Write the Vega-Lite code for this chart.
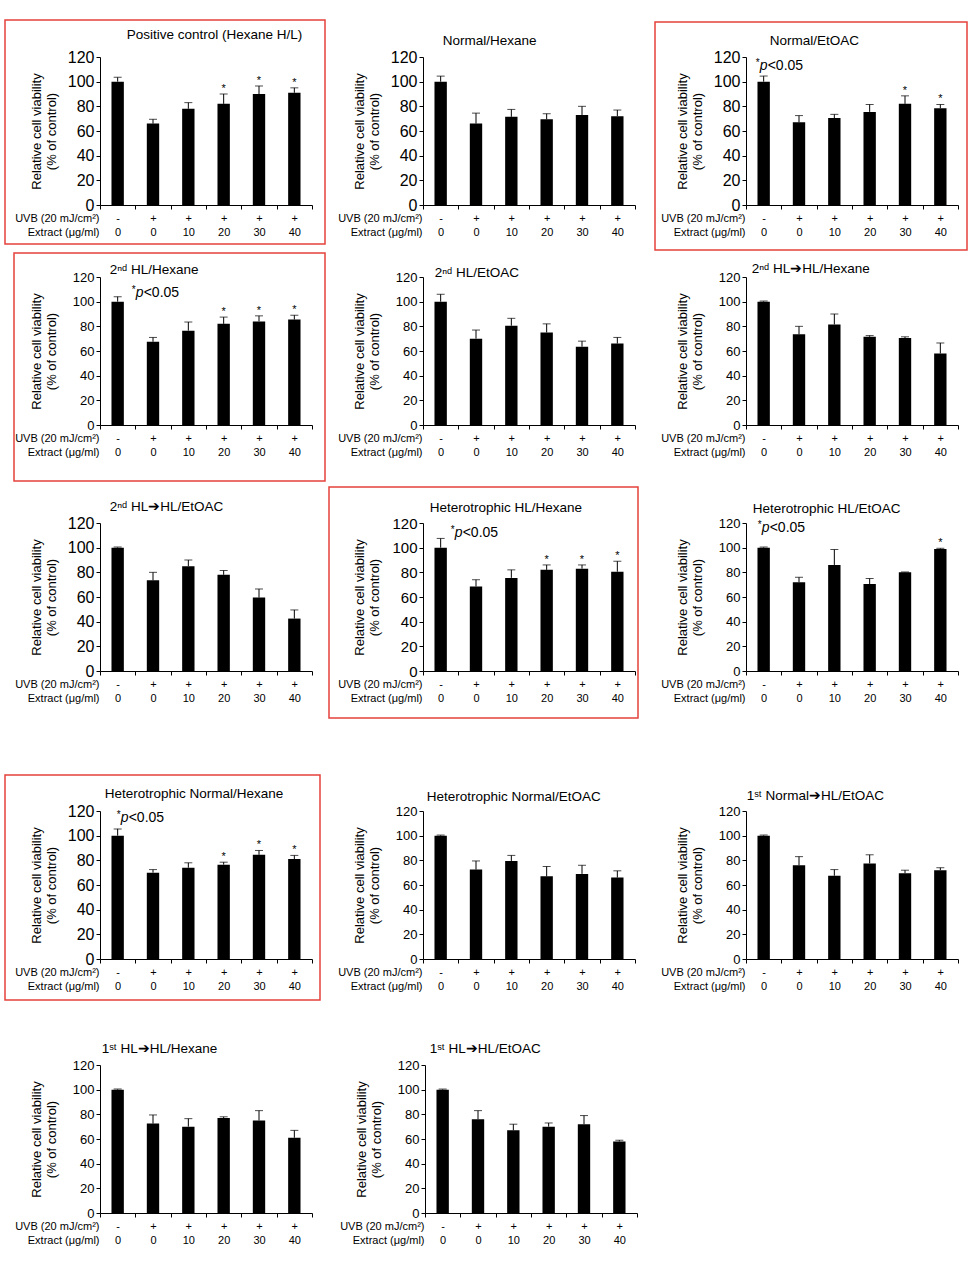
{
"$schema": "https://vega.github.io/schema/vega-lite/v6.json",
"padding": 0,
"autosize": {"type": "pad"},
"background": "white",
"datasets": {
"v": [
{"panel":"P1","cond":"-|0","mean":100,"upper":103.5,"sig":""},
{"panel":"P1","cond":"+|0","mean":66,"upper":69.5,"sig":""},
{"panel":"P1","cond":"+|10","mean":78,"upper":83,"sig":""},
{"panel":"P1","cond":"+|20","mean":82,"upper":90,"sig":"*"},
{"panel":"P1","cond":"+|30","mean":90,"upper":96.5,"sig":"*"},
{"panel":"P1","cond":"+|40","mean":91,"upper":95,"sig":"*"},
{"panel":"P2","cond":"-|0","mean":100,"upper":104.5,"sig":""},
{"panel":"P2","cond":"+|0","mean":66,"upper":74.5,"sig":""},
{"panel":"P2","cond":"+|10","mean":71.5,"upper":77.5,"sig":""},
{"panel":"P2","cond":"+|20","mean":69.5,"upper":74,"sig":""},
{"panel":"P2","cond":"+|30","mean":73,"upper":80,"sig":""},
{"panel":"P2","cond":"+|40","mean":72,"upper":77,"sig":""},
{"panel":"P3","cond":"-|0","mean":100,"upper":104.5,"sig":""},
{"panel":"P3","cond":"+|0","mean":67,"upper":72.5,"sig":""},
{"panel":"P3","cond":"+|10","mean":70.5,"upper":73.5,"sig":""},
{"panel":"P3","cond":"+|20","mean":75.5,"upper":81.5,"sig":""},
{"panel":"P3","cond":"+|30","mean":82,"upper":88.5,"sig":"*"},
{"panel":"P3","cond":"+|40","mean":78.5,"upper":81.5,"sig":"*"},
{"panel":"P4","cond":"-|0","mean":100,"upper":104,"sig":""},
{"panel":"P4","cond":"+|0","mean":67.5,"upper":71,"sig":""},
{"panel":"P4","cond":"+|10","mean":76.5,"upper":83.5,"sig":""},
{"panel":"P4","cond":"+|20","mean":82,"upper":87.5,"sig":"*"},
{"panel":"P4","cond":"+|30","mean":84,"upper":88.5,"sig":"*"},
{"panel":"P4","cond":"+|40","mean":85.5,"upper":89,"sig":"*"},
{"panel":"P5","cond":"-|0","mean":100,"upper":106,"sig":""},
{"panel":"P5","cond":"+|0","mean":70,"upper":77,"sig":""},
{"panel":"P5","cond":"+|10","mean":80.5,"upper":86.5,"sig":""},
{"panel":"P5","cond":"+|20","mean":75,"upper":82,"sig":""},
{"panel":"P5","cond":"+|30","mean":63.5,"upper":68,"sig":""},
{"panel":"P5","cond":"+|40","mean":66,"upper":71,"sig":""},
{"panel":"P6","cond":"-|0","mean":100,"upper":100.5,"sig":""},
{"panel":"P6","cond":"+|0","mean":73.5,"upper":80,"sig":""},
{"panel":"P6","cond":"+|10","mean":81.5,"upper":90,"sig":""},
{"panel":"P6","cond":"+|20","mean":71.5,"upper":72.5,"sig":""},
{"panel":"P6","cond":"+|30","mean":70.5,"upper":71.5,"sig":""},
{"panel":"P6","cond":"+|40","mean":58,"upper":66.5,"sig":""},
{"panel":"P7","cond":"-|0","mean":100,"upper":100.5,"sig":""},
{"panel":"P7","cond":"+|0","mean":73.5,"upper":80,"sig":""},
{"panel":"P7","cond":"+|10","mean":85,"upper":90,"sig":""},
{"panel":"P7","cond":"+|20","mean":78,"upper":81.5,"sig":""},
{"panel":"P7","cond":"+|30","mean":59.5,"upper":66.5,"sig":""},
{"panel":"P7","cond":"+|40","mean":42.5,"upper":49.5,"sig":""},
{"panel":"P8","cond":"-|0","mean":100,"upper":107.5,"sig":""},
{"panel":"P8","cond":"+|0","mean":68.5,"upper":74,"sig":""},
{"panel":"P8","cond":"+|10","mean":75.5,"upper":82,"sig":""},
{"panel":"P8","cond":"+|20","mean":82,"upper":86,"sig":"*"},
{"panel":"P8","cond":"+|30","mean":83,"upper":86,"sig":"*"},
{"panel":"P8","cond":"+|40","mean":80.5,"upper":89,"sig":"*"},
{"panel":"P9","cond":"-|0","mean":100,"upper":100.5,"sig":""},
{"panel":"P9","cond":"+|0","mean":72,"upper":76,"sig":""},
{"panel":"P9","cond":"+|10","mean":86,"upper":98.5,"sig":""},
{"panel":"P9","cond":"+|20","mean":70.5,"upper":75,"sig":""},
{"panel":"P9","cond":"+|30","mean":80,"upper":80.3,"sig":""},
{"panel":"P9","cond":"+|40","mean":99,"upper":99.5,"sig":"*"},
{"panel":"P10","cond":"-|0","mean":100,"upper":105.5,"sig":""},
{"panel":"P10","cond":"+|0","mean":70,"upper":72.5,"sig":""},
{"panel":"P10","cond":"+|10","mean":74,"upper":78,"sig":""},
{"panel":"P10","cond":"+|20","mean":76.5,"upper":78.5,"sig":"*"},
{"panel":"P10","cond":"+|30","mean":84.5,"upper":88,"sig":"*"},
{"panel":"P10","cond":"+|40","mean":81,"upper":84,"sig":"*"},
{"panel":"P11","cond":"-|0","mean":100,"upper":100.5,"sig":""},
{"panel":"P11","cond":"+|0","mean":72.5,"upper":79.5,"sig":""},
{"panel":"P11","cond":"+|10","mean":79.5,"upper":84,"sig":""},
{"panel":"P11","cond":"+|20","mean":67,"upper":75,"sig":""},
{"panel":"P11","cond":"+|30","mean":69,"upper":76,"sig":""},
{"panel":"P11","cond":"+|40","mean":66,"upper":71.5,"sig":""},
{"panel":"P12","cond":"-|0","mean":100,"upper":100.5,"sig":""},
{"panel":"P12","cond":"+|0","mean":76,"upper":83,"sig":""},
{"panel":"P12","cond":"+|10","mean":67.5,"upper":72.5,"sig":""},
{"panel":"P12","cond":"+|20","mean":77.5,"upper":84.5,"sig":""},
{"panel":"P12","cond":"+|30","mean":69.5,"upper":72,"sig":""},
{"panel":"P12","cond":"+|40","mean":72,"upper":74,"sig":""},
{"panel":"P13","cond":"-|0","mean":100,"upper":100.5,"sig":""},
{"panel":"P13","cond":"+|0","mean":72.5,"upper":79.5,"sig":""},
{"panel":"P13","cond":"+|10","mean":70,"upper":76.5,"sig":""},
{"panel":"P13","cond":"+|20","mean":77,"upper":78,"sig":""},
{"panel":"P13","cond":"+|30","mean":75,"upper":83,"sig":""},
{"panel":"P13","cond":"+|40","mean":61,"upper":67,"sig":""},
{"panel":"P14","cond":"-|0","mean":100,"upper":100.5,"sig":""},
{"panel":"P14","cond":"+|0","mean":76,"upper":83,"sig":""},
{"panel":"P14","cond":"+|10","mean":67,"upper":72,"sig":""},
{"panel":"P14","cond":"+|20","mean":70,"upper":73,"sig":""},
{"panel":"P14","cond":"+|30","mean":72,"upper":79,"sig":""},
{"panel":"P14","cond":"+|40","mean":58,"upper":59,"sig":""}
],
"notes": [
{"panel":"P3","cond":"-|0","y":113},
{"panel":"P4","cond":"-|0","y":107},
{"panel":"P8","cond":"-|0","y":112},
{"panel":"P9","cond":"-|0","y":116},
{"panel":"P10","cond":"-|0","y":114}
],
"titles": [
{"panel":"P1","cond":"-|0","y":137.8,"label":"Positive control (Hexane H/L)"},
{"panel":"P2","cond":"-|0","y":133,"label":"Normal/Hexane"},
{"panel":"P3","cond":"-|0","y":132.7,"label":"Normal/EtOAC"},
{"panel":"P4","cond":"-|0","y":126,"label":"2ⁿᵈ HL/Hexane"},
{"panel":"P5","cond":"-|0","y":123.5,"label":"2ⁿᵈ HL/EtOAC"},
{"panel":"P6","cond":"-|0","y":126.5,"label":"2ⁿᵈ HL➔HL/Hexane"},
{"panel":"P7","cond":"-|0","y":133,"label":"2ⁿᵈ HL➔HL/EtOAC"},
{"panel":"P8","cond":"-|0","y":132,"label":"Heterotrophic HL/Hexane"},
{"panel":"P9","cond":"-|0","y":131.5,"label":"Heterotrophic HL/EtOAC"},
{"panel":"P10","cond":"-|0","y":133.5,"label":"Heterotrophic Normal/Hexane"},
{"panel":"P11","cond":"-|0","y":131.5,"label":"Heterotrophic Normal/EtOAC"},
{"panel":"P12","cond":"-|0","y":132,"label":"1ˢᵗ Normal➔HL/EtOAC"},
{"panel":"P13","cond":"-|0","y":133,"label":"1ˢᵗ HL➔HL/Hexane"},
{"panel":"P14","cond":"-|0","y":133,"label":"1ˢᵗ HL➔HL/EtOAC"}
]
},
"spacing": 0,
"vconcat": [
{"spacing": 0, "hconcat": [
{"width":212,"height":148,
"data":{"name":"v"},"transform":[{"filter":"datum.panel == 'P1'"}],
"encoding":{"x":{"field":"cond","type":"nominal","sort":["-|0","+|0","+|10","+|20","+|30","+|40"],"scale":{"paddingInner":0,"paddingOuter":0},"title":["UVB (20 mJ/cm²)","Extract (μg/ml)"],"axis":{"labelExpr":"split(datum.label, '|')"}},
"y":{"field":"mean","type":"quantitative","scale":{"domain":[0,120],"nice":false},"title":["Relative cell viability","(% of control)"],"axis":{"labelFontSize":16}}},
"layer":[
{"mark":{"type":"bar","width":{"band":0.35},"color":"black"}},
{"mark":{"type":"rule","color":"black","strokeWidth":1},"encoding":{"y2":{"field":"upper"}}},
{"mark":{"type":"tick","color":"black","thickness":1,"size":8},"encoding":{"y":{"field":"upper","type":"quantitative","scale":{"domain":[0,120],"nice":false},"title":["Relative cell viability","(% of control)"],"axis":{"labelFontSize":16}}}},
{"transform":[{"filter":"datum.sig == '*'"}],"mark":{"type":"text","text":"*","fontSize":11,"baseline":"alphabetic","dy":-2,"color":"black"},"encoding":{"y":{"field":"upper","type":"quantitative","scale":{"domain":[0,120],"nice":false},"title":["Relative cell viability","(% of control)"],"axis":{"labelFontSize":16}}}},
{"data":{"name":"titles"},"transform":[{"filter":"datum.panel == 'P1'"}],"mark":{"type":"text","fontSize":13.5,"align":"left","baseline":"middle","dx":9,"color":"black"},"encoding":{"text":{"field":"label"},"y":{"field":"y","type":"quantitative","scale":{"domain":[0,120],"nice":false},"title":["Relative cell viability","(% of control)"],"axis":{"labelFontSize":16}}}},
{"data":{"values":[{"panel":"P1"}]},"mark":{"type":"rect","opacity":0},"encoding":{"x":{"value":-100},"x2":{"value":226},"y":{"value":-57},"y2":{"value":194}}},
{"data":{"values":[{"panel":"P1"}]},"mark":{"type":"rect","filled":false,"stroke":"#e5403b","strokeWidth":1.5},"encoding":{"x":{"value":-95},"x2":{"value":225},"y":{"value":-37},"y2":{"value":187}}}
]},
{"width":212,"height":148,
"data":{"name":"v"},"transform":[{"filter":"datum.panel == 'P2'"}],
"encoding":{"x":{"field":"cond","type":"nominal","sort":["-|0","+|0","+|10","+|20","+|30","+|40"],"scale":{"paddingInner":0,"paddingOuter":0},"title":["UVB (20 mJ/cm²)","Extract (μg/ml)"],"axis":{"labelExpr":"split(datum.label, '|')"}},
"y":{"field":"mean","type":"quantitative","scale":{"domain":[0,120],"nice":false},"title":["Relative cell viability","(% of control)"],"axis":{"labelFontSize":16}}},
"layer":[
{"mark":{"type":"bar","width":{"band":0.35},"color":"black"}},
{"mark":{"type":"rule","color":"black","strokeWidth":1},"encoding":{"y2":{"field":"upper"}}},
{"mark":{"type":"tick","color":"black","thickness":1,"size":8},"encoding":{"y":{"field":"upper","type":"quantitative","scale":{"domain":[0,120],"nice":false},"title":["Relative cell viability","(% of control)"],"axis":{"labelFontSize":16}}}},
{"data":{"name":"titles"},"transform":[{"filter":"datum.panel == 'P2'"}],"mark":{"type":"text","fontSize":13.5,"align":"left","baseline":"middle","dx":2,"color":"black"},"encoding":{"text":{"field":"label"},"y":{"field":"y","type":"quantitative","scale":{"domain":[0,120],"nice":false},"title":["Relative cell viability","(% of control)"],"axis":{"labelFontSize":16}}}},
{"data":{"values":[{"panel":"P2"}]},"mark":{"type":"rect","opacity":0},"encoding":{"x":{"value":-97},"x2":{"value":226},"y":{"value":-57},"y2":{"value":194}}}
]},
{"width":212,"height":148,
"data":{"name":"v"},"transform":[{"filter":"datum.panel == 'P3'"}],
"encoding":{"x":{"field":"cond","type":"nominal","sort":["-|0","+|0","+|10","+|20","+|30","+|40"],"scale":{"paddingInner":0,"paddingOuter":0},"title":["UVB (20 mJ/cm²)","Extract (μg/ml)"],"axis":{"labelExpr":"split(datum.label, '|')"}},
"y":{"field":"mean","type":"quantitative","scale":{"domain":[0,120],"nice":false},"title":["Relative cell viability","(% of control)"],"axis":{"labelFontSize":16}}},
"layer":[
{"mark":{"type":"bar","width":{"band":0.35},"color":"black"}},
{"mark":{"type":"rule","color":"black","strokeWidth":1},"encoding":{"y2":{"field":"upper"}}},
{"mark":{"type":"tick","color":"black","thickness":1,"size":8},"encoding":{"y":{"field":"upper","type":"quantitative","scale":{"domain":[0,120],"nice":false},"title":["Relative cell viability","(% of control)"],"axis":{"labelFontSize":16}}}},
{"transform":[{"filter":"datum.sig == '*'"}],"mark":{"type":"text","text":"*","fontSize":11,"baseline":"alphabetic","dy":-2,"color":"black"},"encoding":{"y":{"field":"upper","type":"quantitative","scale":{"domain":[0,120],"nice":false},"title":["Relative cell viability","(% of control)"],"axis":{"labelFontSize":16}}}},
{"data":{"name":"notes"},"transform":[{"filter":"datum.panel == 'P3'"}],"mark":{"type":"text","text":"*","fontSize":10,"align":"left","baseline":"middle","dx":-8,"dy":-3,"color":"black"},"encoding":{"y":{"field":"y","type":"quantitative","scale":{"domain":[0,120],"nice":false},"title":["Relative cell viability","(% of control)"],"axis":{"labelFontSize":16}}}},
{"data":{"name":"notes"},"transform":[{"filter":"datum.panel == 'P3'"}],"mark":{"type":"text","text":"p","fontSize":14,"fontStyle":"italic","align":"left","baseline":"middle","dx":-4,"color":"black"},"encoding":{"y":{"field":"y","type":"quantitative","scale":{"domain":[0,120],"nice":false},"title":["Relative cell viability","(% of control)"],"axis":{"labelFontSize":16}}}},
{"data":{"name":"notes"},"transform":[{"filter":"datum.panel == 'P3'"}],"mark":{"type":"text","text":"<0.05","fontSize":14,"align":"left","baseline":"middle","dx":4,"color":"black"},"encoding":{"y":{"field":"y","type":"quantitative","scale":{"domain":[0,120],"nice":false},"title":["Relative cell viability","(% of control)"],"axis":{"labelFontSize":16}}}},
{"data":{"name":"titles"},"transform":[{"filter":"datum.panel == 'P3'"}],"mark":{"type":"text","fontSize":13.5,"align":"left","baseline":"middle","dx":6,"color":"black"},"encoding":{"text":{"field":"label"},"y":{"field":"y","type":"quantitative","scale":{"domain":[0,120],"nice":false},"title":["Relative cell viability","(% of control)"],"axis":{"labelFontSize":16}}}},
{"data":{"values":[{"panel":"P3"}]},"mark":{"type":"rect","opacity":0},"encoding":{"x":{"value":-97},"x2":{"value":226},"y":{"value":-57},"y2":{"value":194}}},
{"data":{"values":[{"panel":"P3"}]},"mark":{"type":"rect","filled":false,"stroke":"#e5403b","strokeWidth":1.5},"encoding":{"x":{"value":-91},"x2":{"value":221},"y":{"value":-35},"y2":{"value":193}}}
]}
]},
{"spacing": 0, "hconcat": [
{"width":212,"height":148,
"data":{"name":"v"},"transform":[{"filter":"datum.panel == 'P4'"}],
"encoding":{"x":{"field":"cond","type":"nominal","sort":["-|0","+|0","+|10","+|20","+|30","+|40"],"scale":{"paddingInner":0,"paddingOuter":0},"title":["UVB (20 mJ/cm²)","Extract (μg/ml)"],"axis":{"labelExpr":"split(datum.label, '|')"}},
"y":{"field":"mean","type":"quantitative","scale":{"domain":[0,120],"nice":false},"title":["Relative cell viability","(% of control)"],"axis":{"labelFontSize":13}}},
"layer":[
{"mark":{"type":"bar","width":{"band":0.35},"color":"black"}},
{"mark":{"type":"rule","color":"black","strokeWidth":1},"encoding":{"y2":{"field":"upper"}}},
{"mark":{"type":"tick","color":"black","thickness":1,"size":8},"encoding":{"y":{"field":"upper","type":"quantitative","scale":{"domain":[0,120],"nice":false},"title":["Relative cell viability","(% of control)"],"axis":{"labelFontSize":13}}}},
{"transform":[{"filter":"datum.sig == '*'"}],"mark":{"type":"text","text":"*","fontSize":11,"baseline":"alphabetic","dy":-2,"color":"black"},"encoding":{"y":{"field":"upper","type":"quantitative","scale":{"domain":[0,120],"nice":false},"title":["Relative cell viability","(% of control)"],"axis":{"labelFontSize":13}}}},
{"data":{"name":"notes"},"transform":[{"filter":"datum.panel == 'P4'"}],"mark":{"type":"text","text":"*","fontSize":10,"align":"left","baseline":"middle","dx":14,"dy":-3,"color":"black"},"encoding":{"y":{"field":"y","type":"quantitative","scale":{"domain":[0,120],"nice":false},"title":["Relative cell viability","(% of control)"],"axis":{"labelFontSize":13}}}},
{"data":{"name":"notes"},"transform":[{"filter":"datum.panel == 'P4'"}],"mark":{"type":"text","text":"p","fontSize":14,"fontStyle":"italic","align":"left","baseline":"middle","dx":18,"color":"black"},"encoding":{"y":{"field":"y","type":"quantitative","scale":{"domain":[0,120],"nice":false},"title":["Relative cell viability","(% of control)"],"axis":{"labelFontSize":13}}}},
{"data":{"name":"notes"},"transform":[{"filter":"datum.panel == 'P4'"}],"mark":{"type":"text","text":"<0.05","fontSize":14,"align":"left","baseline":"middle","dx":26,"color":"black"},"encoding":{"y":{"field":"y","type":"quantitative","scale":{"domain":[0,120],"nice":false},"title":["Relative cell viability","(% of control)"],"axis":{"labelFontSize":13}}}},
{"data":{"name":"titles"},"transform":[{"filter":"datum.panel == 'P4'"}],"mark":{"type":"text","fontSize":13.5,"align":"left","baseline":"middle","dx":-8,"color":"black"},"encoding":{"text":{"field":"label"},"y":{"field":"y","type":"quantitative","scale":{"domain":[0,120],"nice":false},"title":["Relative cell viability","(% of control)"],"axis":{"labelFontSize":13}}}},
{"data":{"values":[{"panel":"P4"}]},"mark":{"type":"rect","opacity":0},"encoding":{"x":{"value":-100},"x2":{"value":226},"y":{"value":-26},"y2":{"value":206}}},
{"data":{"values":[{"panel":"P4"}]},"mark":{"type":"rect","filled":false,"stroke":"#e5403b","strokeWidth":1.5},"encoding":{"x":{"value":-86},"x2":{"value":225},"y":{"value":-24},"y2":{"value":204}}}
]},
{"width":212,"height":148,
"data":{"name":"v"},"transform":[{"filter":"datum.panel == 'P5'"}],
"encoding":{"x":{"field":"cond","type":"nominal","sort":["-|0","+|0","+|10","+|20","+|30","+|40"],"scale":{"paddingInner":0,"paddingOuter":0},"title":["UVB (20 mJ/cm²)","Extract (μg/ml)"],"axis":{"labelExpr":"split(datum.label, '|')"}},
"y":{"field":"mean","type":"quantitative","scale":{"domain":[0,120],"nice":false},"title":["Relative cell viability","(% of control)"],"axis":{"labelFontSize":13}}},
"layer":[
{"mark":{"type":"bar","width":{"band":0.35},"color":"black"}},
{"mark":{"type":"rule","color":"black","strokeWidth":1},"encoding":{"y2":{"field":"upper"}}},
{"mark":{"type":"tick","color":"black","thickness":1,"size":8},"encoding":{"y":{"field":"upper","type":"quantitative","scale":{"domain":[0,120],"nice":false},"title":["Relative cell viability","(% of control)"],"axis":{"labelFontSize":13}}}},
{"data":{"name":"titles"},"transform":[{"filter":"datum.panel == 'P5'"}],"mark":{"type":"text","fontSize":13.5,"align":"left","baseline":"middle","dx":-6,"color":"black"},"encoding":{"text":{"field":"label"},"y":{"field":"y","type":"quantitative","scale":{"domain":[0,120],"nice":false},"title":["Relative cell viability","(% of control)"],"axis":{"labelFontSize":13}}}},
{"data":{"values":[{"panel":"P5"}]},"mark":{"type":"rect","opacity":0},"encoding":{"x":{"value":-97},"x2":{"value":226},"y":{"value":-26},"y2":{"value":206}}}
]},
{"width":212,"height":148,
"data":{"name":"v"},"transform":[{"filter":"datum.panel == 'P6'"}],
"encoding":{"x":{"field":"cond","type":"nominal","sort":["-|0","+|0","+|10","+|20","+|30","+|40"],"scale":{"paddingInner":0,"paddingOuter":0},"title":["UVB (20 mJ/cm²)","Extract (μg/ml)"],"axis":{"labelExpr":"split(datum.label, '|')"}},
"y":{"field":"mean","type":"quantitative","scale":{"domain":[0,120],"nice":false},"title":["Relative cell viability","(% of control)"],"axis":{"labelFontSize":13}}},
"layer":[
{"mark":{"type":"bar","width":{"band":0.35},"color":"black"}},
{"mark":{"type":"rule","color":"black","strokeWidth":1},"encoding":{"y2":{"field":"upper"}}},
{"mark":{"type":"tick","color":"black","thickness":1,"size":8},"encoding":{"y":{"field":"upper","type":"quantitative","scale":{"domain":[0,120],"nice":false},"title":["Relative cell viability","(% of control)"],"axis":{"labelFontSize":13}}}},
{"data":{"name":"titles"},"transform":[{"filter":"datum.panel == 'P6'"}],"mark":{"type":"text","fontSize":13.5,"align":"left","baseline":"middle","dx":-12,"color":"black"},"encoding":{"text":{"field":"label"},"y":{"field":"y","type":"quantitative","scale":{"domain":[0,120],"nice":false},"title":["Relative cell viability","(% of control)"],"axis":{"labelFontSize":13}}}},
{"data":{"values":[{"panel":"P6"}]},"mark":{"type":"rect","opacity":0},"encoding":{"x":{"value":-97},"x2":{"value":226},"y":{"value":-26},"y2":{"value":206}}}
]}
]},
{"spacing": 0, "hconcat": [
{"width":212,"height":148,
"data":{"name":"v"},"transform":[{"filter":"datum.panel == 'P7'"}],
"encoding":{"x":{"field":"cond","type":"nominal","sort":["-|0","+|0","+|10","+|20","+|30","+|40"],"scale":{"paddingInner":0,"paddingOuter":0},"title":["UVB (20 mJ/cm²)","Extract (μg/ml)"],"axis":{"labelExpr":"split(datum.label, '|')"}},
"y":{"field":"mean","type":"quantitative","scale":{"domain":[0,120],"nice":false},"title":["Relative cell viability","(% of control)"],"axis":{"labelFontSize":16}}},
"layer":[
{"mark":{"type":"bar","width":{"band":0.35},"color":"black"}},
{"mark":{"type":"rule","color":"black","strokeWidth":1},"encoding":{"y2":{"field":"upper"}}},
{"mark":{"type":"tick","color":"black","thickness":1,"size":8},"encoding":{"y":{"field":"upper","type":"quantitative","scale":{"domain":[0,120],"nice":false},"title":["Relative cell viability","(% of control)"],"axis":{"labelFontSize":16}}}},
{"data":{"name":"titles"},"transform":[{"filter":"datum.panel == 'P7'"}],"mark":{"type":"text","fontSize":13.5,"align":"left","baseline":"middle","dx":-8,"color":"black"},"encoding":{"text":{"field":"label"},"y":{"field":"y","type":"quantitative","scale":{"domain":[0,120],"nice":false},"title":["Relative cell viability","(% of control)"],"axis":{"labelFontSize":16}}}},
{"data":{"values":[{"panel":"P7"}]},"mark":{"type":"rect","opacity":0},"encoding":{"x":{"value":-100},"x2":{"value":226},"y":{"value":-40},"y2":{"value":198}}}
]},
{"width":212,"height":148,
"data":{"name":"v"},"transform":[{"filter":"datum.panel == 'P8'"}],
"encoding":{"x":{"field":"cond","type":"nominal","sort":["-|0","+|0","+|10","+|20","+|30","+|40"],"scale":{"paddingInner":0,"paddingOuter":0},"title":["UVB (20 mJ/cm²)","Extract (μg/ml)"],"axis":{"labelExpr":"split(datum.label, '|')"}},
"y":{"field":"mean","type":"quantitative","scale":{"domain":[0,120],"nice":false},"title":["Relative cell viability","(% of control)"],"axis":{"labelFontSize":15}}},
"layer":[
{"mark":{"type":"bar","width":{"band":0.35},"color":"black"}},
{"mark":{"type":"rule","color":"black","strokeWidth":1},"encoding":{"y2":{"field":"upper"}}},
{"mark":{"type":"tick","color":"black","thickness":1,"size":8},"encoding":{"y":{"field":"upper","type":"quantitative","scale":{"domain":[0,120],"nice":false},"title":["Relative cell viability","(% of control)"],"axis":{"labelFontSize":15}}}},
{"transform":[{"filter":"datum.sig == '*'"}],"mark":{"type":"text","text":"*","fontSize":11,"baseline":"alphabetic","dy":-2,"color":"black"},"encoding":{"y":{"field":"upper","type":"quantitative","scale":{"domain":[0,120],"nice":false},"title":["Relative cell viability","(% of control)"],"axis":{"labelFontSize":15}}}},
{"data":{"name":"notes"},"transform":[{"filter":"datum.panel == 'P8'"}],"mark":{"type":"text","text":"*","fontSize":10,"align":"left","baseline":"middle","dx":10,"dy":-3,"color":"black"},"encoding":{"y":{"field":"y","type":"quantitative","scale":{"domain":[0,120],"nice":false},"title":["Relative cell viability","(% of control)"],"axis":{"labelFontSize":15}}}},
{"data":{"name":"notes"},"transform":[{"filter":"datum.panel == 'P8'"}],"mark":{"type":"text","text":"p","fontSize":14,"fontStyle":"italic","align":"left","baseline":"middle","dx":14,"color":"black"},"encoding":{"y":{"field":"y","type":"quantitative","scale":{"domain":[0,120],"nice":false},"title":["Relative cell viability","(% of control)"],"axis":{"labelFontSize":15}}}},
{"data":{"name":"notes"},"transform":[{"filter":"datum.panel == 'P8'"}],"mark":{"type":"text","text":"<0.05","fontSize":14,"align":"left","baseline":"middle","dx":22,"color":"black"},"encoding":{"y":{"field":"y","type":"quantitative","scale":{"domain":[0,120],"nice":false},"title":["Relative cell viability","(% of control)"],"axis":{"labelFontSize":15}}}},
{"data":{"name":"titles"},"transform":[{"filter":"datum.panel == 'P8'"}],"mark":{"type":"text","fontSize":13.5,"align":"left","baseline":"middle","dx":-11,"color":"black"},"encoding":{"text":{"field":"label"},"y":{"field":"y","type":"quantitative","scale":{"domain":[0,120],"nice":false},"title":["Relative cell viability","(% of control)"],"axis":{"labelFontSize":15}}}},
{"data":{"values":[{"panel":"P8"}]},"mark":{"type":"rect","opacity":0},"encoding":{"x":{"value":-97},"x2":{"value":226},"y":{"value":-40},"y2":{"value":198}}},
{"data":{"values":[{"panel":"P8"}]},"mark":{"type":"rect","filled":false,"stroke":"#e5403b","strokeWidth":1.5},"encoding":{"x":{"value":-94},"x2":{"value":215},"y":{"value":-36},"y2":{"value":195}}}
]},
{"width":212,"height":148,
"data":{"name":"v"},"transform":[{"filter":"datum.panel == 'P9'"}],
"encoding":{"x":{"field":"cond","type":"nominal","sort":["-|0","+|0","+|10","+|20","+|30","+|40"],"scale":{"paddingInner":0,"paddingOuter":0},"title":["UVB (20 mJ/cm²)","Extract (μg/ml)"],"axis":{"labelExpr":"split(datum.label, '|')"}},
"y":{"field":"mean","type":"quantitative","scale":{"domain":[0,120],"nice":false},"title":["Relative cell viability","(% of control)"],"axis":{"labelFontSize":13}}},
"layer":[
{"mark":{"type":"bar","width":{"band":0.35},"color":"black"}},
{"mark":{"type":"rule","color":"black","strokeWidth":1},"encoding":{"y2":{"field":"upper"}}},
{"mark":{"type":"tick","color":"black","thickness":1,"size":8},"encoding":{"y":{"field":"upper","type":"quantitative","scale":{"domain":[0,120],"nice":false},"title":["Relative cell viability","(% of control)"],"axis":{"labelFontSize":13}}}},
{"transform":[{"filter":"datum.sig == '*'"}],"mark":{"type":"text","text":"*","fontSize":11,"baseline":"alphabetic","dy":-2,"color":"black"},"encoding":{"y":{"field":"upper","type":"quantitative","scale":{"domain":[0,120],"nice":false},"title":["Relative cell viability","(% of control)"],"axis":{"labelFontSize":13}}}},
{"data":{"name":"notes"},"transform":[{"filter":"datum.panel == 'P9'"}],"mark":{"type":"text","text":"*","fontSize":10,"align":"left","baseline":"middle","dx":-6,"dy":-3,"color":"black"},"encoding":{"y":{"field":"y","type":"quantitative","scale":{"domain":[0,120],"nice":false},"title":["Relative cell viability","(% of control)"],"axis":{"labelFontSize":13}}}},
{"data":{"name":"notes"},"transform":[{"filter":"datum.panel == 'P9'"}],"mark":{"type":"text","text":"p","fontSize":14,"fontStyle":"italic","align":"left","baseline":"middle","dx":-2,"color":"black"},"encoding":{"y":{"field":"y","type":"quantitative","scale":{"domain":[0,120],"nice":false},"title":["Relative cell viability","(% of control)"],"axis":{"labelFontSize":13}}}},
{"data":{"name":"notes"},"transform":[{"filter":"datum.panel == 'P9'"}],"mark":{"type":"text","text":"<0.05","fontSize":14,"align":"left","baseline":"middle","dx":6,"color":"black"},"encoding":{"y":{"field":"y","type":"quantitative","scale":{"domain":[0,120],"nice":false},"title":["Relative cell viability","(% of control)"],"axis":{"labelFontSize":13}}}},
{"data":{"name":"titles"},"transform":[{"filter":"datum.panel == 'P9'"}],"mark":{"type":"text","fontSize":13.5,"align":"left","baseline":"middle","dx":-11,"color":"black"},"encoding":{"text":{"field":"label"},"y":{"field":"y","type":"quantitative","scale":{"domain":[0,120],"nice":false},"title":["Relative cell viability","(% of control)"],"axis":{"labelFontSize":13}}}},
{"data":{"values":[{"panel":"P9"}]},"mark":{"type":"rect","opacity":0},"encoding":{"x":{"value":-97},"x2":{"value":226},"y":{"value":-40},"y2":{"value":198}}}
]}
]},
{"spacing": 0, "hconcat": [
{"width":212,"height":148,
"data":{"name":"v"},"transform":[{"filter":"datum.panel == 'P10'"}],
"encoding":{"x":{"field":"cond","type":"nominal","sort":["-|0","+|0","+|10","+|20","+|30","+|40"],"scale":{"paddingInner":0,"paddingOuter":0},"title":["UVB (20 mJ/cm²)","Extract (μg/ml)"],"axis":{"labelExpr":"split(datum.label, '|')"}},
"y":{"field":"mean","type":"quantitative","scale":{"domain":[0,120],"nice":false},"title":["Relative cell viability","(% of control)"],"axis":{"labelFontSize":16}}},
"layer":[
{"mark":{"type":"bar","width":{"band":0.35},"color":"black"}},
{"mark":{"type":"rule","color":"black","strokeWidth":1},"encoding":{"y2":{"field":"upper"}}},
{"mark":{"type":"tick","color":"black","thickness":1,"size":8},"encoding":{"y":{"field":"upper","type":"quantitative","scale":{"domain":[0,120],"nice":false},"title":["Relative cell viability","(% of control)"],"axis":{"labelFontSize":16}}}},
{"transform":[{"filter":"datum.sig == '*'"}],"mark":{"type":"text","text":"*","fontSize":11,"baseline":"alphabetic","dy":-2,"color":"black"},"encoding":{"y":{"field":"upper","type":"quantitative","scale":{"domain":[0,120],"nice":false},"title":["Relative cell viability","(% of control)"],"axis":{"labelFontSize":16}}}},
{"data":{"name":"notes"},"transform":[{"filter":"datum.panel == 'P10'"}],"mark":{"type":"text","text":"*","fontSize":10,"align":"left","baseline":"middle","dx":-1,"dy":-3,"color":"black"},"encoding":{"y":{"field":"y","type":"quantitative","scale":{"domain":[0,120],"nice":false},"title":["Relative cell viability","(% of control)"],"axis":{"labelFontSize":16}}}},
{"data":{"name":"notes"},"transform":[{"filter":"datum.panel == 'P10'"}],"mark":{"type":"text","text":"p","fontSize":14,"fontStyle":"italic","align":"left","baseline":"middle","dx":3,"color":"black"},"encoding":{"y":{"field":"y","type":"quantitative","scale":{"domain":[0,120],"nice":false},"title":["Relative cell viability","(% of control)"],"axis":{"labelFontSize":16}}}},
{"data":{"name":"notes"},"transform":[{"filter":"datum.panel == 'P10'"}],"mark":{"type":"text","text":"<0.05","fontSize":14,"align":"left","baseline":"middle","dx":11,"color":"black"},"encoding":{"y":{"field":"y","type":"quantitative","scale":{"domain":[0,120],"nice":false},"title":["Relative cell viability","(% of control)"],"axis":{"labelFontSize":16}}}},
{"data":{"name":"titles"},"transform":[{"filter":"datum.panel == 'P10'"}],"mark":{"type":"text","fontSize":13.5,"align":"left","baseline":"middle","dx":-13,"color":"black"},"encoding":{"text":{"field":"label"},"y":{"field":"y","type":"quantitative","scale":{"domain":[0,120],"nice":false},"title":["Relative cell viability","(% of control)"],"axis":{"labelFontSize":16}}}},
{"data":{"values":[{"panel":"P10"}]},"mark":{"type":"rect","opacity":0},"encoding":{"x":{"value":-100},"x2":{"value":226},"y":{"value":-90},"y2":{"value":194}}},
{"data":{"values":[{"panel":"P10"}]},"mark":{"type":"rect","filled":false,"stroke":"#e5403b","strokeWidth":1.5},"encoding":{"x":{"value":-95},"x2":{"value":220},"y":{"value":-36},"y2":{"value":189}}}
]},
{"width":212,"height":148,
"data":{"name":"v"},"transform":[{"filter":"datum.panel == 'P11'"}],
"encoding":{"x":{"field":"cond","type":"nominal","sort":["-|0","+|0","+|10","+|20","+|30","+|40"],"scale":{"paddingInner":0,"paddingOuter":0},"title":["UVB (20 mJ/cm²)","Extract (μg/ml)"],"axis":{"labelExpr":"split(datum.label, '|')"}},
"y":{"field":"mean","type":"quantitative","scale":{"domain":[0,120],"nice":false},"title":["Relative cell viability","(% of control)"],"axis":{"labelFontSize":13}}},
"layer":[
{"mark":{"type":"bar","width":{"band":0.35},"color":"black"}},
{"mark":{"type":"rule","color":"black","strokeWidth":1},"encoding":{"y2":{"field":"upper"}}},
{"mark":{"type":"tick","color":"black","thickness":1,"size":8},"encoding":{"y":{"field":"upper","type":"quantitative","scale":{"domain":[0,120],"nice":false},"title":["Relative cell viability","(% of control)"],"axis":{"labelFontSize":13}}}},
{"data":{"name":"titles"},"transform":[{"filter":"datum.panel == 'P11'"}],"mark":{"type":"text","fontSize":13.5,"align":"left","baseline":"middle","dx":-14,"color":"black"},"encoding":{"text":{"field":"label"},"y":{"field":"y","type":"quantitative","scale":{"domain":[0,120],"nice":false},"title":["Relative cell viability","(% of control)"],"axis":{"labelFontSize":13}}}},
{"data":{"values":[{"panel":"P11"}]},"mark":{"type":"rect","opacity":0},"encoding":{"x":{"value":-97},"x2":{"value":226},"y":{"value":-90},"y2":{"value":194}}}
]},
{"width":212,"height":148,
"data":{"name":"v"},"transform":[{"filter":"datum.panel == 'P12'"}],
"encoding":{"x":{"field":"cond","type":"nominal","sort":["-|0","+|0","+|10","+|20","+|30","+|40"],"scale":{"paddingInner":0,"paddingOuter":0},"title":["UVB (20 mJ/cm²)","Extract (μg/ml)"],"axis":{"labelExpr":"split(datum.label, '|')"}},
"y":{"field":"mean","type":"quantitative","scale":{"domain":[0,120],"nice":false},"title":["Relative cell viability","(% of control)"],"axis":{"labelFontSize":13}}},
"layer":[
{"mark":{"type":"bar","width":{"band":0.35},"color":"black"}},
{"mark":{"type":"rule","color":"black","strokeWidth":1},"encoding":{"y2":{"field":"upper"}}},
{"mark":{"type":"tick","color":"black","thickness":1,"size":8},"encoding":{"y":{"field":"upper","type":"quantitative","scale":{"domain":[0,120],"nice":false},"title":["Relative cell viability","(% of control)"],"axis":{"labelFontSize":13}}}},
{"data":{"name":"titles"},"transform":[{"filter":"datum.panel == 'P12'"}],"mark":{"type":"text","fontSize":13.5,"align":"left","baseline":"middle","dx":-17,"color":"black"},"encoding":{"text":{"field":"label"},"y":{"field":"y","type":"quantitative","scale":{"domain":[0,120],"nice":false},"title":["Relative cell viability","(% of control)"],"axis":{"labelFontSize":13}}}},
{"data":{"values":[{"panel":"P12"}]},"mark":{"type":"rect","opacity":0},"encoding":{"x":{"value":-97},"x2":{"value":226},"y":{"value":-90},"y2":{"value":194}}}
]}
]},
{"spacing": 0, "hconcat": [
{"width":212,"height":148,
"data":{"name":"v"},"transform":[{"filter":"datum.panel == 'P13'"}],
"encoding":{"x":{"field":"cond","type":"nominal","sort":["-|0","+|0","+|10","+|20","+|30","+|40"],"scale":{"paddingInner":0,"paddingOuter":0},"title":["UVB (20 mJ/cm²)","Extract (μg/ml)"],"axis":{"labelExpr":"split(datum.label, '|')"}},
"y":{"field":"mean","type":"quantitative","scale":{"domain":[0,120],"nice":false},"title":["Relative cell viability","(% of control)"],"axis":{"labelFontSize":13}}},
"layer":[
{"mark":{"type":"bar","width":{"band":0.35},"color":"black"}},
{"mark":{"type":"rule","color":"black","strokeWidth":1},"encoding":{"y2":{"field":"upper"}}},
{"mark":{"type":"tick","color":"black","thickness":1,"size":8},"encoding":{"y":{"field":"upper","type":"quantitative","scale":{"domain":[0,120],"nice":false},"title":["Relative cell viability","(% of control)"],"axis":{"labelFontSize":13}}}},
{"data":{"name":"titles"},"transform":[{"filter":"datum.panel == 'P13'"}],"mark":{"type":"text","fontSize":13.5,"align":"left","baseline":"middle","dx":-16,"color":"black"},"encoding":{"text":{"field":"label"},"y":{"field":"y","type":"quantitative","scale":{"domain":[0,120],"nice":false},"title":["Relative cell viability","(% of control)"],"axis":{"labelFontSize":13}}}},
{"data":{"values":[{"panel":"P13"}]},"mark":{"type":"rect","opacity":0},"encoding":{"x":{"value":-100},"x2":{"value":226},"y":{"value":-60},"y2":{"value":188}}}
]},
{"width":212,"height":148,
"data":{"name":"v"},"transform":[{"filter":"datum.panel == 'P14'"}],
"encoding":{"x":{"field":"cond","type":"nominal","sort":["-|0","+|0","+|10","+|20","+|30","+|40"],"scale":{"paddingInner":0,"paddingOuter":0},"title":["UVB (20 mJ/cm²)","Extract (μg/ml)"],"axis":{"labelExpr":"split(datum.label, '|')"}},
"y":{"field":"mean","type":"quantitative","scale":{"domain":[0,120],"nice":false},"title":["Relative cell viability","(% of control)"],"axis":{"labelFontSize":13}}},
"layer":[
{"mark":{"type":"bar","width":{"band":0.35},"color":"black"}},
{"mark":{"type":"rule","color":"black","strokeWidth":1},"encoding":{"y2":{"field":"upper"}}},
{"mark":{"type":"tick","color":"black","thickness":1,"size":8},"encoding":{"y":{"field":"upper","type":"quantitative","scale":{"domain":[0,120],"nice":false},"title":["Relative cell viability","(% of control)"],"axis":{"labelFontSize":13}}}},
{"data":{"name":"titles"},"transform":[{"filter":"datum.panel == 'P14'"}],"mark":{"type":"text","fontSize":13.5,"align":"left","baseline":"middle","dx":-13,"color":"black"},"encoding":{"text":{"field":"label"},"y":{"field":"y","type":"quantitative","scale":{"domain":[0,120],"nice":false},"title":["Relative cell viability","(% of control)"],"axis":{"labelFontSize":13}}}},
{"data":{"values":[{"panel":"P14"}]},"mark":{"type":"rect","opacity":0},"encoding":{"x":{"value":-99},"x2":{"value":226},"y":{"value":-60},"y2":{"value":188}}}
]}
]}
],
"config": {
"font": "Liberation Sans",
"view": {"stroke": null},
"axis": {"domainColor": "black", "tickColor": "black", "labelColor": "black", "titleColor": "black", "grid": false, "titleFontWeight": "normal", "domainWidth": 1, "tickWidth": 1, "labelFont": "Liberation Sans", "titleFont": "Liberation Sans"},
"axisX": {"labelAngle": 0, "tickBand": "extent", "tickSize": 4, "labelPadding": 3, "labelFontSize": 11, "labelLineHeight": 14.5, "titleFontSize": 11, "titleLineHeight": 14.5, "titleAlign": "right", "titleBaseline": "top", "titleX": -1, "titleY": 7, "titleAngle": 0},
"axisY": {"tickCount": 6, "tickSize": 4, "labelPadding": 2, "titleFontSize": 13, "titleLineHeight": 15, "titleX": -57, "titleY": 74, "titleAlign": "center", "titleBaseline": "bottom", "titleAngle": -90}
}
}
